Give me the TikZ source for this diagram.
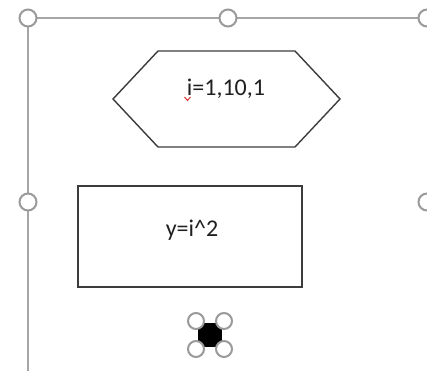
\documentclass[tikz,border=0pt]{standalone}
\usepackage{fontspec}
\setmainfont{Carlito}
\definecolor{framegray}{HTML}{A6A6A6}
\definecolor{handlegray}{HTML}{9A9A9A}
\definecolor{shapeline}{HTML}{3C3C3C}
\definecolor{textcol}{HTML}{202020}
\definecolor{spellred}{HTML}{E03030}
\begin{document}
\begin{tikzpicture}[x=1pt,y=-1pt,
  frameline/.style={draw=framegray,line width=1.6pt},
  handle/.style={circle,draw=handlegray,fill=white,line width=2pt,minimum size=17pt,inner sep=0pt},
  shapeborder/.style={draw=shapeline,line width=1.4pt},
  label/.style={anchor=base,inner sep=0pt,text=textcol,font=\fontsize{24}{28}\selectfont}]
\useasboundingbox[fill=white] (0,0) rectangle (427,371);
% canvas frame
\coordinate (fTL) at (28,18);
\coordinate (fTR) at (440,18);
\coordinate (fBL) at (28,371);
\draw[frameline] (fTR) -- (fTL) -- (fBL);
\node[handle] (h1) at (28,18) {};
\node[handle] (h2) at (228,18) {};
\node[handle] (h3) at (427,18) {};
\node[handle] (h4) at (28,202) {};
\node[handle] (h5) at (427,202) {};
% hexagon
\draw[shapeborder,line join=miter] (113,99) -- (158,51) -- (295,51) -- (340,99) -- (295,147) -- (158,147) -- cycle;
\node[label] (loop) at (226,96) {i=1,10,1};
\draw[spellred,line width=1pt] (184.5,97) -- (187.5,100.5) -- (190.5,97);
% rectangle
\draw[shapeborder] (78,186) rectangle (302,287);
\node[label] (proc) at (192,236) {y=i\textasciicircum 2};
% selection marker
\fill[black] (198,323) rectangle (222,347);
\node[handle,minimum size=16pt] (m1) at (196,321) {};
\node[handle,minimum size=16pt] (m2) at (224,321) {};
\node[handle,minimum size=16pt] (m3) at (196,349) {};
\node[handle,minimum size=16pt] (m4) at (224,349) {};
\end{tikzpicture}
\end{document}
